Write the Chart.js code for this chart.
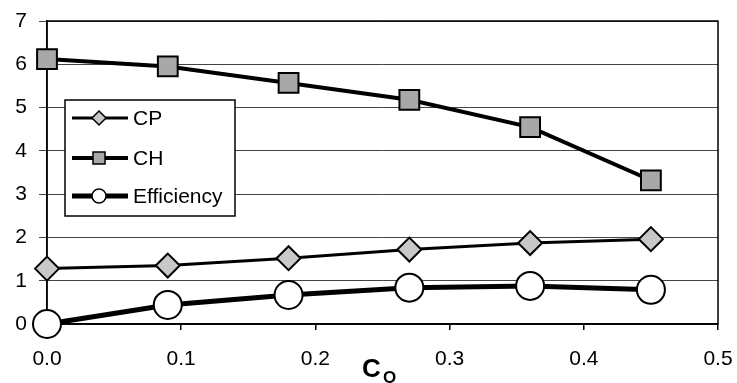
<!DOCTYPE html>
<html>
<head>
<meta charset="utf-8">
<script src="https://cdn.jsdelivr.net/npm/chart.js@4"></script>
<style>
  html, body { margin: 0; padding: 0; background: #fff; }
  #wrap { width: 737px; height: 383px; }
</style>
</head>
<body>
<div id="wrap"><canvas id="myChart1" width="737" height="383"></canvas></div>
<script>
// data
const cq = [0, 0.09, 0.18, 0.27, 0.36, 0.45];
const cpValues = [1.28, 1.35, 1.52, 1.72, 1.87, 1.96];
const chValues = [6.12, 5.95, 5.57, 5.18, 4.55, 3.32];
const effValues = [0.0, 0.44, 0.67, 0.84, 0.88, 0.79];
const xTicks = [0, 0.1, 0.2, 0.3, 0.4, 0.5];
const yTicks = [0, 1, 2, 3, 4, 5, 6, 7];

const font = 'Liberation Sans, Arial, sans-serif';

function toPoints(vals) {
  return vals.map((v, i) => ({ x: cq[i], y: v }));
}

const datasets = [
  {
    label: 'CP',
    data: toPoints(cpValues),
    clip: false,
    borderColor: '#000',
    borderWidth: 3,
    pointStyle: 'rectRot',
    pointRadius: 12,
    pointBackgroundColor: '#c8c8c8',
    pointBorderColor: '#000',
    pointBorderWidth: 2
  },
  {
    label: 'CH',
    data: toPoints(chValues),
    clip: false,
    borderColor: '#000',
    borderWidth: 4,
    pointStyle: 'rect',
    pointRadius: 14,
    pointBackgroundColor: '#a8a8a8',
    pointBorderColor: '#000',
    pointBorderWidth: 2
  },
  {
    label: 'Efficiency',
    data: toPoints(effValues),
    clip: false,
    borderColor: '#000',
    borderWidth: 5,
    pointStyle: 'circle',
    pointRadius: 14,
    pointBackgroundColor: '#fff',
    pointBorderColor: '#000',
    pointBorderWidth: 2
  }
];

// frame around the plot, legend box inside it, axis title with subscript
const extras = {
  id: 'extras',
  beforeDatasetsDraw(chart) {
    const { ctx, chartArea: a } = chart;
    ctx.save();
    ctx.strokeStyle = '#000';
    ctx.lineWidth = 1.5;
    ctx.strokeRect(a.left, a.top, a.right - a.left, a.bottom - a.top);
    ctx.restore();
  },
  afterDraw(chart) {
    const { ctx } = chart;
    ctx.save();
    // legend
    const bx = 65, by = 100, bw = 170, bh = 116;
    ctx.fillStyle = '#fff';
    ctx.fillRect(bx, by, bw, bh);
    ctx.strokeStyle = '#000';
    ctx.lineWidth = 1.5;
    ctx.strokeRect(bx, by, bw, bh);
    const rows = [118, 158, 196];
    chart.data.datasets.forEach((ds, i) => {
      const y = rows[i];
      ctx.strokeStyle = '#000';
      ctx.lineWidth = ds.borderWidth;
      ctx.beginPath();
      ctx.moveTo(72, y);
      ctx.lineTo(128, y);
      ctx.stroke();
      const r = ds.pointStyle === 'rect' ? 6 : 7;
      ctx.fillStyle = ds.pointBackgroundColor;
      ctx.strokeStyle = '#000';
      ctx.lineWidth = 1.5;
      ctx.beginPath();
      if (ds.pointStyle === 'rect') {
        ctx.rect(99 - r, y - r, 2 * r, 2 * r);
      } else if (ds.pointStyle === 'rectRot') {
        ctx.moveTo(99, y - r); ctx.lineTo(99 + r, y); ctx.lineTo(99, y + r); ctx.lineTo(99 - r, y); ctx.closePath();
      } else {
        ctx.arc(99, y, r, 0, Math.PI * 2);
      }
      ctx.fill();
      ctx.stroke();
      ctx.fillStyle = '#000';
      ctx.font = '21px ' + font;
      ctx.textBaseline = 'middle';
      ctx.textAlign = 'left';
      ctx.fillText(ds.label, 133, y + 1);
    });
    // axis title C with subscript Q
    ctx.fillStyle = '#000';
    ctx.textBaseline = 'alphabetic';
    ctx.font = 'bold 26px ' + font;
    ctx.fillText('C', 362, 377);
    ctx.font = 'bold 17px ' + font;
    ctx.fillText('Q', 383, 383);
    ctx.restore();
  }
};

new Chart(document.getElementById('myChart1').getContext('2d'), {
  type: 'line',
  data: { datasets: datasets },
  plugins: [extras],
  options: {
    responsive: false,
    animation: false,
    layout: { padding: { top: 21, right: 19, left: 0, bottom: 0 } },
    plugins: { legend: { display: false }, tooltip: { enabled: false } },
    scales: {
      x: {
        type: 'linear',
        min: 0,
        max: 0.5,
        afterBuildTicks: (s) => { s.ticks = xTicks.map(v => ({ value: v })); },
        afterFit: (s) => { s.height = 59; s.paddingLeft = 0; s.paddingRight = 0; },
        grid: { drawOnChartArea: false, drawTicks: true, tickLength: 6, color: '#000', lineWidth: 1.5 },
        border: { color: '#000', width: 1.5 },
        ticks: {
          color: '#000',
          padding: 17,
          font: { family: font, size: 21 },
          callback: (v) => v.toFixed(1)
        }
      },
      y: {
        min: 0,
        max: 7,
        afterBuildTicks: (s) => { s.ticks = yTicks.map(v => ({ value: v })); },
        afterFit: (s) => { s.width = 47; s.paddingTop = 0; s.paddingBottom = 0; },
        grid: { color: '#444', lineWidth: 1, tickLength: 8 },
        border: { color: '#000', width: 1.5 },
        ticks: {
          color: '#000',
          padding: 12,
          font: { family: font, size: 21 }
        }
      }
    }
  }
});
</script>
</body>
</html>
